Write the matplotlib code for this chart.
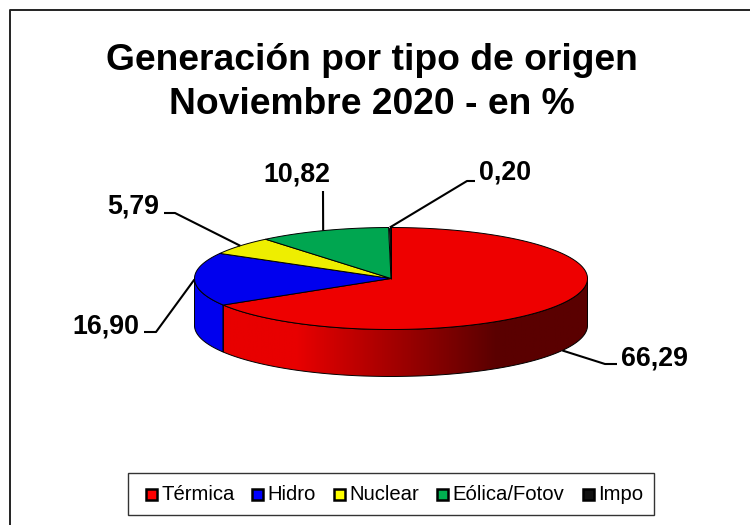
import numpy as np
import matplotlib
matplotlib.use('Agg')
import matplotlib.pyplot as plt
from matplotlib.colors import LinearSegmentedColormap
from matplotlib.patches import Polygon, Rectangle

categories = ['Térmica', 'Hidro', 'Nuclear', 'Eólica/Fotov', 'Impo']
values = [66.29, 16.90, 5.79, 10.82, 0.20]
value_labels = ['66,29', '16,90', '5,79', '10,82', '0,20']
colors = ['#EE0000', '#0000EE', '#EEEE00', '#00A650', '#111111']
legend_colors = ['#FF0000', '#0000FF', '#FFFF00', '#00B050', '#111111']
title_lines = ['Generación por tipo de origen', 'Noviembre 2020 - en %']

CX, CY, RX, RY, DEPTH = 391, 278.5, 196.5, 51, 47

# label text position and the elbow of each leader line
LABEL_POS = [(655, 359), (106, 326), (133, 206), (297, 175), (505, 172)]
ELBOWS = [[(617, 364), (605, 364)], [(144, 332), (156, 332)], [(164, 213), (175, 213)],
          [(323, 191)], [(475, 181), (467, 181)]]
LEGEND_X = [146, 252, 334, 437, 583]


def ellipse_points(a0, a1, n=200):
    t = np.radians(np.linspace(a0, a1, n))
    return CX + RX * np.cos(t), CY - RY * np.sin(t)


def side_polygon(a0, a1):
    x, y = ellipse_points(a0, a1)
    return np.r_[np.c_[x, y], np.c_[x[::-1], y[::-1] + DEPTH]]


def draw_side(ax, a0, a1, color, gradient=False):
    # only the front half of the rim is visible
    a0, a1 = max(a0, -180), min(a1, 0)
    if a1 <= a0:
        return
    pts = side_polygon(a0, a1)
    if not gradient:
        ax.add_patch(Polygon(pts, closed=True, fc=color, ec='black', lw=0.7, zorder=2))
        return
    cmap = LinearSegmentedColormap.from_list('rim', [(0, '#E80000'), (0.2, '#E80000'),
                                                     (0.75, '#5A0000'), (1, '#5A0000')])
    outline = Polygon(pts, closed=True, fc='none', ec='black', lw=0.7, zorder=3)
    ax.add_patch(outline)
    im = ax.imshow(np.linspace(0, 1, 400)[None, :], cmap=cmap, aspect='auto', zorder=2,
                   extent=(pts[:, 0].min(), pts[:, 0].max(), pts[:, 1].max(), pts[:, 1].min()))
    im.set_clip_path(outline)


def plot_chart(output_file):
    plt.rcParams['font.family'] = ['Liberation Sans', 'DejaVu Sans']
    fig = plt.figure(figsize=(7.5, 5.25), dpi=100)
    ax = fig.add_axes([0, 0, 1, 1])
    ax.axis('off')

    # frame only shows on the top and left, the rest is cut off
    ax.plot([750, 10, 10], [10, 10, 525], color='#222222', lw=1.4, zorder=0)

    ax.text(372, 60, title_lines[0], ha='center', va='center', fontsize=26.8, fontweight='bold')
    ax.text(372, 105, title_lines[1], ha='center', va='center', fontsize=26.8, fontweight='bold')

    # slices run clockwise from twelve o'clock
    angle = 90.0
    spans = []
    for v in values:
        span = v / sum(values) * 360
        spans.append((angle - span, angle))
        angle -= span

    for (a0, a1), color, cat in zip(spans, colors, categories):
        draw_side(ax, a0, a1, color, gradient=cat == 'Térmica')
        draw_side(ax, a0 + 360, a1 + 360, color)
        draw_side(ax, a0 - 360, a1 - 360, color)

    for (a0, a1), color in zip(spans, colors):
        x, y = ellipse_points(a0, a1)
        pts = np.r_[[[CX, CY]], np.c_[x, y]]
        ax.add_patch(Polygon(pts, closed=True, fc=color, ec='black', lw=0.7, zorder=4))

    for i, ((a0, a1), label) in enumerate(zip(spans, value_labels)):
        mid = (a0 + a1) / 2
        px, py = ellipse_points(mid, mid, 1)
        px, py = px[0], py[0]
        if i == 0:
            py += DEPTH
        xs = [p[0] for p in ELBOWS[i]] + [px]
        ys = [p[1] for p in ELBOWS[i]] + [py]
        ax.plot(xs, ys, color='black', lw=1.5, zorder=1 if i == 0 else 5, solid_capstyle='butt')
        ax.text(LABEL_POS[i][0], LABEL_POS[i][1], label, ha='center', va='center',
                fontsize=19.3, fontweight='bold')

    # legend box is laid out by hand to keep the tight marker spacing
    ax.add_patch(Rectangle((128, 473), 525.5, 42, fc='white', ec='#333333', lw=1, zorder=1))
    for mx, cat, color in zip(LEGEND_X, categories, legend_colors):
        ax.add_patch(Rectangle((mx, 489), 11, 11, fc=color, ec='black', lw=1.8, zorder=2))
        ax.text(mx + 15.5, 494.5, cat, ha='left', va='center', fontsize=14.6)

    ax.set_xlim(0, 750)
    ax.set_ylim(525, 0)
    fig.savefig(output_file, dpi=100)


if __name__ == '__main__':
    plot_chart('out.png')
